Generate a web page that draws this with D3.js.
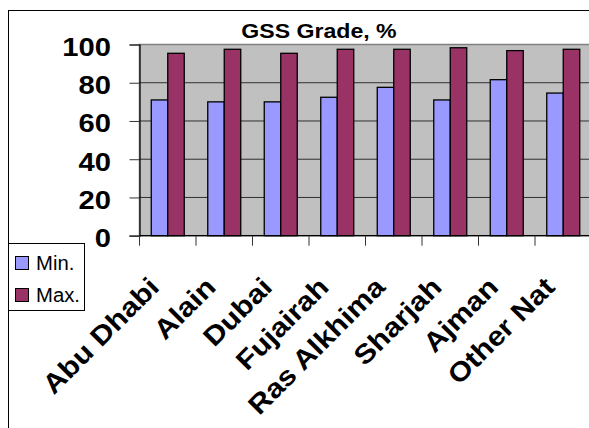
<!DOCTYPE html>
<html>
<head>
<meta charset="utf-8">
<script src="https://cdn.jsdelivr.net/npm/d3@7"></script>
<style>
  html, body { margin: 0; padding: 0; background: #fff; }
  svg { display: block; font-family: "Liberation Sans", Arial, sans-serif; }
</style>
</head>
<body>
<svg id="chart" width="589" height="428"></svg>
<script>
// GSS grade ranges by emirate
const categories = ["Abu Dhabi", "Alain", "Dubai", "Fujairah", "Ras Alkhima", "Sharjah", "Ajman", "Other Nat"];
const seriesNames = ["Min.", "Max."];
const minValues = [71, 70, 70, 72.4, 77.6, 71, 81.6, 74.6];
const maxValues = [95.4, 97.5, 95.4, 97.5, 97.5, 98.3, 96.8, 97.5];
const yTicks = [0, 20, 40, 60, 80, 100];
const title = "GSS Grade, %";

const colors = { "Min.": "#9999FF", "Max.": "#993366" };
// the chart's lettering is slightly wide, so text is stretched horizontally
const stretch = 1.1;

const svg = d3.select("#chart");
const plot = { left: 139.5, right: 591.5, top: 44.5, bottom: 235.7 };

// outer chart frame
svg.append("rect")
  .attr("x", 8.5).attr("y", 10.5)
  .attr("width", 600).attr("height", 430)
  .attr("fill", "#fff").attr("stroke", "#000").attr("stroke-width", 1);

const x0 = d3.scaleBand().domain(categories).range([plot.left, plot.right]);
const groupPad = x0.bandwidth() * 0.208;
const x1 = d3.scaleBand().domain(seriesNames).range([groupPad, x0.bandwidth() - groupPad]);
const y = d3.scaleLinear().domain([0, 100]).range([plot.bottom, plot.top]);

// plot area background
svg.append("rect")
  .attr("x", plot.left).attr("y", plot.top)
  .attr("width", plot.right - plot.left).attr("height", plot.bottom - plot.top)
  .attr("fill", "#C0C0C0").attr("stroke", "#808080").attr("stroke-width", 1.5);

// horizontal gridlines
svg.append("g").selectAll("line")
  .data(yTicks.filter(t => t > 0 && t < 100))
  .join("line")
  .attr("x1", plot.left).attr("x2", plot.right)
  .attr("y1", d => y(d)).attr("y2", d => y(d))
  .attr("stroke", "#303030").attr("stroke-width", 1);

// bars
const rows = categories.map((c, i) => ({ cat: c, vals: [
  { s: "Min.", v: minValues[i] }, { s: "Max.", v: maxValues[i] }
]}));
svg.append("g").selectAll("g")
  .data(rows)
  .join("g")
  .attr("transform", d => `translate(${x0(d.cat)},0)`)
  .selectAll("rect")
  .data(d => d.vals)
  .join("rect")
  .attr("x", d => x1(d.s))
  .attr("width", x1.bandwidth())
  .attr("y", d => y(d.v))
  .attr("height", d => y(0) - y(d.v))
  .attr("fill", d => colors[d.s])
  .attr("stroke", "#000").attr("stroke-width", 1.3);

// y axis line and ticks
const yAxis = svg.append("g")
  .attr("transform", `translate(${plot.left},0)`)
  .call(d3.axisLeft(y).tickValues(yTicks).tickSize(10).tickFormat(""));
yAxis.select(".domain").attr("stroke", "#000").attr("stroke-width", 1.2);
yAxis.selectAll(".tick line").attr("stroke", "#333");

// y tick labels
svg.append("g").selectAll("text")
  .data(yTicks)
  .join("text")
  .attr("transform", d => `translate(111,${y(d) + 11.3}) scale(${stretch},1)`)
  .attr("text-anchor", "end")
  .attr("font-size", 26.5).attr("font-weight", "bold").attr("fill", "#000")
  .text(d => d);

// x axis: ticks at category boundaries
const xAxis = svg.append("g").attr("transform", `translate(0,${plot.bottom})`);
xAxis.append("line")
  .attr("x1", plot.left).attr("x2", plot.right)
  .attr("stroke", "#000").attr("stroke-width", 1.2);
xAxis.selectAll("line.tick")
  .data(categories)
  .join("line").attr("class", "tick")
  .attr("x1", d => x0(d)).attr("x2", d => x0(d))
  .attr("y1", 0).attr("y2", 10)
  .attr("stroke", "#333");

// rotated category labels
svg.append("g").selectAll("text")
  .data(categories)
  .join("text")
  .attr("transform", d => `translate(${x0(d) + x0.bandwidth() / 2 - 7},${plot.bottom + 53}) rotate(-45) scale(1.12,1)`)
  .attr("text-anchor", "end")
  .attr("font-size", 27).attr("font-weight", "bold").attr("fill", "#000")
  .text(d => d);

// title
svg.append("text")
  .attr("transform", `translate(319,38) scale(${stretch},1)`)
  .attr("text-anchor", "middle")
  .attr("font-size", 21).attr("font-weight", "bold")
  .text(title);

// legend
const legend = svg.append("g");
legend.append("rect")
  .attr("x", 8.5).attr("y", 243.5).attr("width", 76).attr("height", 67)
  .attr("fill", "#fff").attr("stroke", "#000").attr("stroke-width", 1);
const items = legend.selectAll("g.item")
  .data(seriesNames)
  .join("g").attr("class", "item")
  .attr("transform", (d, i) => `translate(0,${i * 32})`);
items.append("rect")
  .attr("x", 15.5).attr("y", 256.5).attr("width", 13).attr("height", 13)
  .attr("fill", d => colors[d]).attr("stroke", "#000").attr("stroke-width", 1);
items.append("text")
  .attr("transform", "translate(36,270) scale(1.04,1)")
  .attr("font-size", 19.5)
  .text(d => d);
</script>
</body>
</html>
